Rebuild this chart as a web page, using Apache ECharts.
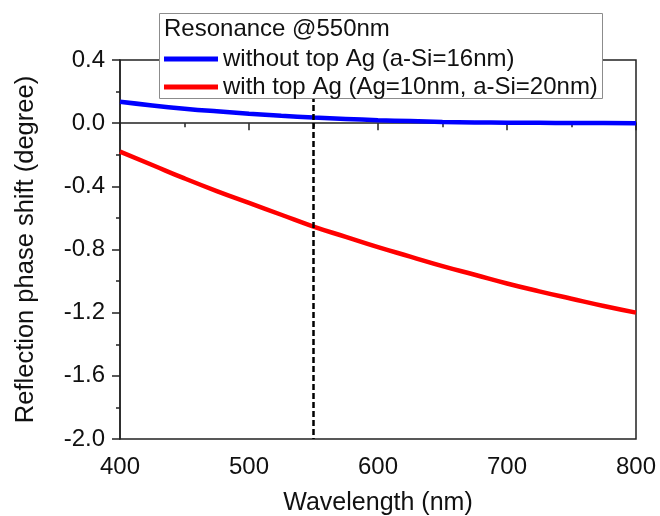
<!DOCTYPE html>
<html>
<head>
<meta charset="utf-8">
<script src="https://cdn.jsdelivr.net/npm/echarts@6/dist/echarts.min.js"></script>
<style>
  html, body { margin: 0; padding: 0; background: #fff; }
  #chart { width: 660px; height: 516px; }
</style>
</head>
<body>
<div id="chart"></div>
<script>
// Wavelength samples (nm)
const wavelengths = [400, 425, 450, 475, 500, 525, 550, 575, 600, 625, 650, 675, 700, 725, 750, 775, 800];
// Reflection phase shift (degree), without top Ag layer
const phaseNoAg = [0.135, 0.112, 0.092, 0.075, 0.060, 0.047, 0.036, 0.027, 0.019, 0.013, 0.008, 0.005, 0.003, 0.002, 0.001, 0.001, 0.000];
// Reflection phase shift (degree), with top Ag layer
const phaseWithAg = [-0.18, -0.265, -0.35, -0.43, -0.505, -0.58, -0.655, -0.72, -0.785, -0.845, -0.905, -0.96, -1.015, -1.065, -1.112, -1.158, -1.20];
// Resonance marker wavelength
const resonance = 550;
const seriesNames = ['without top Ag (a-Si=16nm)', 'with top Ag (Ag=10nm, a-Si=20nm)'];
const legendTitle = 'Resonance @550nm';
const xTitle = 'Wavelength (nm)';
const yTitle = 'Reflection phase shift (degree)';

const FONT = '"Liberation Sans", Arial, sans-serif';
const INK = '#111';
const AXIS = '#222';

const pairs = (ys) => wavelengths.map((x, i) => [x, ys[i]]);

const chart = echarts.init(document.getElementById('chart'), null, { renderer: 'canvas' });

chart.setOption({
  animation: false,
  backgroundColor: '#fff',
  grid: {
    left: 120, right: 24, top: 60, bottom: 77,
    outerBoundsMode: 'none',
    show: true, borderColor: AXIS, borderWidth: 1.5
  },
  xAxis: {
    type: 'value', min: 400, max: 800, interval: 100,
    name: xTitle, nameLocation: 'middle', nameGap: 52,
    nameTextStyle: { fontFamily: FONT, fontSize: 25, color: INK },
    axisLine: { show: true, lineStyle: { color: AXIS, width: 1.5 } },
    axisTick: { show: true, length: 7, lineStyle: { color: AXIS, width: 1.5 } },
    minorTick: { show: true, splitNumber: 2, length: 4, lineStyle: { color: AXIS, width: 1.5 } },
    axisLabel: { fontFamily: FONT, fontSize: 24, color: INK, margin: 16 },
    splitLine: { show: false }
  },
  yAxis: {
    type: 'value', min: -2.0, max: 0.4, interval: 0.4,
    name: yTitle, nameLocation: 'middle', nameGap: 81,
    nameTextStyle: { fontFamily: FONT, fontSize: 25.5, color: INK },
    axisLine: { show: true, lineStyle: { color: AXIS, width: 1.5 } },
    axisTick: { show: true, length: 8, lineStyle: { color: AXIS, width: 1.5 } },
    minorTick: { show: true, splitNumber: 2, length: 4, lineStyle: { color: AXIS, width: 1.5 } },
    axisLabel: {
      fontFamily: FONT, fontSize: 24, color: INK, margin: 15,
      formatter: (v) => (Math.abs(v) < 1e-9 ? 0 : v).toFixed(1)
    },
    splitLine: { show: false }
  },
  legend: {
    show: true,
    orient: 'vertical',
    left: 164, top: 47,
    padding: 0,
    itemGap: 4,
    itemWidth: 54, itemHeight: 5,
    icon: 'rect',
    z: 12,
    textStyle: { fontFamily: FONT, fontSize: 24, color: INK },
    data: seriesNames
  },
  graphic: [
    {
      type: 'rect', z: 10,
      shape: { x: 159.5, y: 13.5, width: 443, height: 85 },
      style: { fill: '#fff', stroke: '#8c8c8c', lineWidth: 1 }
    },
    {
      type: 'text', z: 11, left: 164, top: 17,
      style: { text: legendTitle, fontFamily: FONT, fontSize: 24, fill: INK }
    }
  ],
  series: [
    {
      name: seriesNames[0], type: 'line', data: pairs(phaseNoAg),
      smooth: true, symbol: 'none',
      lineStyle: { color: '#0000ff', width: 4.5 },
      itemStyle: { color: '#0000ff' },
      markLine: {
        silent: true, symbol: 'none', label: { show: false },
        lineStyle: { color: '#000', type: [6, 3], width: 2.5 },
        data: [[{ coord: [resonance, 0.4] }, { coord: [resonance, -2.0] }]]
      }
    },
    {
      name: seriesNames[1], type: 'line', data: pairs(phaseWithAg),
      smooth: true, symbol: 'none',
      lineStyle: { color: '#ff0000', width: 4.5 },
      itemStyle: { color: '#ff0000' }
    }
  ]
});
</script>
</body>
</html>
